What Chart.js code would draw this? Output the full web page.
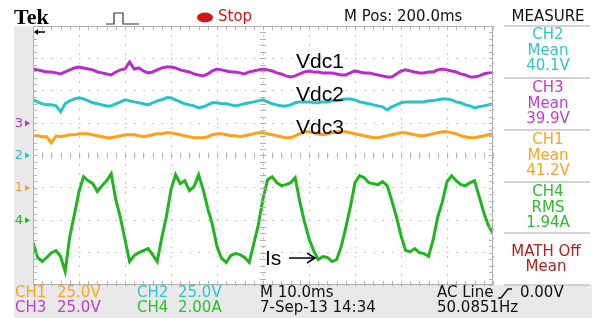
<!DOCTYPE html>
<html>
<head>
<meta charset="utf-8">
<script src="https://cdn.jsdelivr.net/npm/chart.js@4.4.1/dist/chart.umd.min.js"></script>
<style>
  html, body { margin: 0; padding: 0; background: #ffffff; }
  canvas { display: block; }
</style>
</head>
<body>
<canvas id="scope" width="600" height="318"></canvas>
<script>
// time base: M 10.0ms / div, 10 divisions
const timesMs = [0,1,2,3,4,5,6,7,8,9,10,11,12,13,14,15,16,17,18,19,20,21,22,23,24,25,26,27,28,29,30,
  31,32,33,34,35,36,37,38,39,40,41,42,43,44,45,46,47,48,49,50,51,52,53,54,55,56,57,58,59,60,
  61,62,63,64,65,66,67,68,69,70,71,72,73,74,75,76,77,78,79,80,81,82,83,84,85,86,87,88,89,90,
  91,92,93,94,95,96,97,98,99,100];

// CH3 (magenta) - Vdc1, volts
const vdc1 = [41.8,41.1,40.3,39.5,39.5,38.8,38.0,39.5,41.1,42.6,43.4,42.6,41.8,41.1,39.5,38.8,38.0,37.2,39.5,41.1,
  41.8,47.2,41.8,42.6,40.3,38.8,39.5,41.1,42.6,43.4,43.4,42.6,41.1,40.3,39.5,38.0,37.2,36.5,38.0,40.3,
  41.8,41.1,40.3,39.5,39.5,38.8,38.0,39.5,40.3,41.1,41.8,41.1,40.3,38.8,38.0,36.5,35.7,36.5,38.0,39.5,
  40.3,39.5,39.5,38.8,38.8,38.8,38.0,37.2,37.2,38.8,40.3,39.5,38.8,38.8,38.0,37.2,36.5,35.7,35.7,38.0,
  40.3,41.1,40.3,39.5,38.8,38.8,39.5,39.5,41.1,41.8,41.1,40.3,39.5,38.0,37.2,35.7,35.7,36.5,38.0,38.8,39.5];

// CH2 (cyan) - Vdc2, volts
const vdc2 = [43.0,41.4,39.9,39.1,39.1,38.3,33.7,39.9,42.2,43.7,44.5,43.7,42.2,40.7,39.9,39.1,38.3,38.3,39.9,41.4,
  43.0,42.2,41.4,40.7,39.9,39.1,40.7,42.2,43.0,44.5,44.5,43.0,41.4,39.9,39.1,38.3,36.8,37.6,39.1,40.7,
  40.7,39.9,39.9,39.1,38.3,39.1,39.9,40.7,41.4,42.2,43.0,41.4,39.9,39.1,38.3,38.3,39.1,40.7,41.4,41.4,
  41.4,40.7,40.7,41.4,41.4,42.2,42.2,43.0,43.7,43.7,43.0,41.4,40.7,39.9,39.1,38.3,37.6,35.2,37.6,39.1,
  40.7,41.4,41.4,41.4,41.4,41.4,42.2,42.2,43.0,43.7,43.7,43.0,41.4,40.7,39.1,38.3,36.8,37.6,38.3,39.1,39.9];

// CH1 (orange) - Vdc3, volts
const vdc3 = [40.2,40.2,39.5,39.5,34.8,40.2,39.5,40.2,41.0,41.0,41.8,41.8,41.8,41.0,40.2,39.5,38.7,38.7,39.5,40.2,
  41.0,41.0,41.0,40.2,39.5,40.2,41.0,41.8,41.8,42.5,42.5,41.8,41.0,40.2,39.5,38.7,38.7,38.7,39.5,41.0,
  41.8,41.8,41.0,40.2,40.2,39.5,40.2,41.0,41.8,42.5,42.5,41.8,41.0,40.2,39.5,38.7,38.7,40.2,41.8,43.3,
  43.3,42.5,41.8,41.0,41.8,42.5,43.3,43.3,43.3,42.5,41.8,41.0,40.2,39.5,38.7,38.7,39.5,40.2,41.0,41.8,
  42.5,42.5,41.8,41.0,40.2,40.2,41.0,41.8,42.5,43.3,43.3,42.5,41.8,40.2,39.5,38.7,38.7,39.5,40.2,41.0,41.8];

// CH4 (green) - Is, amps
const isCurrent = [-1.38,-2.30,-2.55,-2.30,-2.00,-1.87,-2.24,-3.17,-1.01,0.35,1.77,2.69,2.44,2.26,1.77,2.14,2.44,2.87,1.27,0.16,
  -1.19,-2.55,-2.18,-2.00,-1.87,-1.75,-2.12,-2.55,-1.07,0.22,1.89,2.81,2.26,2.44,1.83,2.07,2.81,1.89,0.72,-0.27,
  -1.63,-2.36,-2.61,-2.18,-2.06,-2.12,-2.30,-2.61,-1.44,-0.27,1.33,2.50,2.69,2.32,2.14,2.20,2.32,2.63,1.15,-0.09,
  -1.13,-1.87,-2.43,-2.24,-2.30,-2.55,-2.43,-1.63,-0.45,0.84,2.32,2.75,2.63,2.32,2.26,2.20,2.38,2.14,1.21,0.22,
  -0.95,-1.87,-1.94,-1.75,-2.00,-2.06,-2.24,-1.19,0.22,1.15,2.38,2.75,2.44,2.20,2.14,2.32,2.44,1.46,0.47,-0.33,-0.82];

// channel settings: volts(amps) per division and ground marker position in divisions
const channels = [
  { id: 'ch1', name: '1', color: '#ff9f1a', perDiv: 25, ground: -1 },
  { id: 'ch2', name: '2', color: '#26c4c4', perDiv: 25, ground: 0 },
  { id: 'ch3', name: '3', color: '#b82cc8', perDiv: 25, ground: 1 },
  { id: 'ch4', name: '4', color: '#1fb51f', perDiv: 2, ground: -2 }
];

const traceLabels = ['Vdc1', 'Vdc2', 'Vdc3'];

const ctx = document.getElementById('scope').getContext('2d');

function points(arr) {
  return arr.map((v, i) => ({ x: timesMs[i], y: v }));
}

function chanScale(ch) {
  return {
    display: false,
    min: (-4 - ch.ground) * ch.perDiv,
    max: (4 - ch.ground) * ch.perDiv
  };
}

function txt(c, s, x, y, color, font, align) {
  c.fillStyle = color;
  c.font = font;
  c.textAlign = align || 'left';
  c.textBaseline = 'middle';
  c.fillText(s, x, y);
}

const F = '"DejaVu Sans", sans-serif';

// decorations of the scope screen (graticule ticks, header, side panel, footer)
const scopeScreen = {
  id: 'scopeScreen',
  beforeDraw(chart) {
    const c = chart.ctx;
    const a = chart.chartArea;
    c.save();
    c.fillStyle = '#ffffff';
    c.fillRect(0, 0, chart.width, chart.height);
    c.fillStyle = '#e9e9e9';
    c.fillRect(14, a.top, a.left - 14, a.bottom - a.top);
    c.fillRect(14, a.bottom, 578, 318 - a.bottom);
    c.restore();
  },
  afterDraw(chart) {
    const c = chart.ctx;
    const a = chart.chartArea;
    const xs = chart.scales.x;
    const ys = chart.scales.y;
    c.save();

    // frame
    c.strokeStyle = '#b0b0b0';
    c.lineWidth = 1;
    c.strokeRect(a.left + 0.5, a.top + 0.5, a.right - a.left - 1, a.bottom - a.top - 1);

    // minor ticks on centre lines and frame
    c.strokeStyle = '#b4b4b4';
    c.beginPath();
    const xc = xs.getPixelForValue(50);
    const yc = ys.getPixelForValue(0);
    for (let d = -4; d <= 4.001; d += 0.2) {
      const py = Math.round(ys.getPixelForValue(d)) + 0.5;
      c.moveTo(xc - 3, py); c.lineTo(xc + 3, py);
      c.moveTo(a.left, py); c.lineTo(a.left + 4, py);
      c.moveTo(a.right - 4, py); c.lineTo(a.right, py);
    }
    for (let t = 0; t <= 100.001; t += 2) {
      const px = Math.round(xs.getPixelForValue(t)) + 0.5;
      c.moveTo(px, yc - 3); c.lineTo(px, yc + 3);
      c.moveTo(px, a.top); c.lineTo(px, a.top + 4);
      c.moveTo(px, a.bottom - 4); c.lineTo(px, a.bottom);
    }
    c.stroke();

    // ground markers on the left
    channels.forEach(ch => {
      const py = chart.scales[ch.id].getPixelForValue(0);
      txt(c, ch.name, 23, py, ch.color, '13px ' + F, 'right');
      c.fillStyle = ch.color;
      c.beginPath();
      c.moveTo(25, py - 3); c.lineTo(30, py); c.lineTo(25, py + 3);
      c.closePath(); c.fill();
    });

    // trigger position arrow
    c.strokeStyle = '#000'; c.fillStyle = '#000'; c.lineWidth = 1.5;
    c.beginPath(); c.moveTo(36, 32); c.lineTo(45, 32); c.stroke();
    c.beginPath(); c.moveTo(34, 32); c.lineTo(38, 29); c.lineTo(38, 35); c.closePath(); c.fill();

    // header
    txt(c, 'Tek', 14, 18, '#000', 'bold 22px "Liberation Serif", serif');
    c.strokeStyle = '#333'; c.lineWidth = 1.2;
    c.beginPath();
    c.moveTo(106, 24); c.lineTo(114, 24); c.lineTo(114, 13); c.lineTo(123, 13);
    c.lineTo(123, 24); c.lineTo(139, 24);
    c.stroke();
    c.fillStyle = '#d41515';
    c.beginPath(); c.ellipse(205, 17.5, 8, 5, 0, 0, Math.PI * 2); c.fill();
    txt(c, 'Stop', 218, 17.5, '#d41515', '15px ' + F);
    txt(c, 'M Pos: 200.0ms', 344, 17.5, '#111', '15px ' + F);
    txt(c, 'MEASURE', 548, 17.5, '#111', '15px ' + F, 'center');

    // measurement panel
    c.strokeStyle = '#c4c4c4'; c.lineWidth = 1.5;
    [26, 78, 130, 182, 233, 285].forEach(y => {
      c.beginPath(); c.moveTo(504, y); c.lineTo(590, y); c.stroke();
    });
    const pf = '15px ' + F;
    const panel = [
      ['CH2', 'Mean', '40.1V', '#2ec6c6', 35],
      ['CH3', 'Mean', '39.9V', '#c03ccc', 88],
      ['CH1', 'Mean', '41.2V', '#ffa21e', 140],
      ['CH4', 'RMS', '1.94A', '#2cbc2c', 192]
    ];
    panel.forEach(p => {
      txt(c, p[0], 548, p[4], p[3], pf, 'center');
      txt(c, p[1], 548, p[4] + 16, p[3], pf, 'center');
      txt(c, p[2], 548, p[4] + 31, p[3], pf, 'center');
    });
    txt(c, 'MATH Off', 546, 252, '#b41e1e', pf, 'center');
    txt(c, 'Mean', 546, 267, '#b41e1e', pf, 'center');

    // footer
    txt(c, 'CH1', 15, 293, '#ffa21e', pf);
    txt(c, '25.0V', 57, 293, '#ffa21e', pf);
    txt(c, 'CH3', 15, 308, '#c03ccc', pf);
    txt(c, '25.0V', 57, 308, '#c03ccc', pf);
    txt(c, 'CH2', 137, 293, '#2ec6c6', pf);
    txt(c, '25.0V', 178, 293, '#2ec6c6', pf);
    txt(c, 'CH4', 137, 308, '#2cbc2c', pf);
    txt(c, '2.00A', 178, 308, '#2cbc2c', pf);
    txt(c, 'M 10.0ms', 260, 293, '#111', pf);
    txt(c, '7-Sep-13 14:34', 260, 308, '#111', pf);
    txt(c, 'AC Line', 437, 293, '#111', pf);
    c.strokeStyle = '#111'; c.lineWidth = 1.5;
    c.beginPath(); c.moveTo(498, 298); c.lineTo(501, 298); c.lineTo(508, 289); c.lineTo(512, 289); c.stroke();
    txt(c, '0.00V', 520, 293, '#111', pf);
    txt(c, '50.0851Hz', 437, 308, '#111', pf);

    // trace annotations
    const af = '21px "Liberation Sans", Arial, sans-serif';
    txt(c, traceLabels[0], 296, 62, '#000', af);
    txt(c, traceLabels[1], 296, 95, '#000', af);
    txt(c, traceLabels[2], 296, 128, '#000', af);
    txt(c, 'Is', 265, 259, '#000', af);
    c.strokeStyle = '#000'; c.lineWidth = 1.5;
    c.beginPath(); c.moveTo(289, 258); c.lineTo(314, 258); c.stroke();
    c.beginPath(); c.moveTo(307, 253); c.lineTo(315, 258); c.lineTo(307, 263); c.stroke();

    c.restore();
  }
};

new Chart(ctx, {
  type: 'line',
  data: {
    datasets: [
      { label: 'Is', data: points(isCurrent), yAxisID: 'ch4', borderColor: '#1fb51f', order: 0 },
      { label: 'Vdc1', data: points(vdc1), yAxisID: 'ch3', borderColor: '#b82cc8', order: 1 },
      { label: 'Vdc2', data: points(vdc2), yAxisID: 'ch2', borderColor: '#26c4c4', order: 2 },
      { label: 'Vdc3', data: points(vdc3), yAxisID: 'ch1', borderColor: '#ff9f1a', order: 3 }
    ]
  },
  options: {
    responsive: false,
    animation: false,
    devicePixelRatio: 1,
    layout: { padding: { left: 33, right: 107, top: 26, bottom: 33 } },
    elements: {
      line: { borderWidth: 3, tension: 0, fill: false },
      point: { radius: 0 }
    },
    plugins: { legend: { display: false }, tooltip: { enabled: false } },
    scales: {
      x: {
        type: 'linear', min: 0, max: 100,
        ticks: { display: false, stepSize: 10 },
        grid: { color: '#b4b4b4', drawTicks: false },
        border: { display: false, dash: [1.5, 7.7] }
      },
      y: {
        min: -4, max: 4,
        ticks: { display: false, stepSize: 1 },
        grid: { color: '#b4b4b4', drawTicks: false },
        border: { display: false, dash: [1.5, 7.7] }
      },
      ch1: chanScale(channels[0]),
      ch2: chanScale(channels[1]),
      ch3: chanScale(channels[2]),
      ch4: chanScale(channels[3])
    }
  },
  plugins: [scopeScreen]
});
</script>
</body>
</html>
